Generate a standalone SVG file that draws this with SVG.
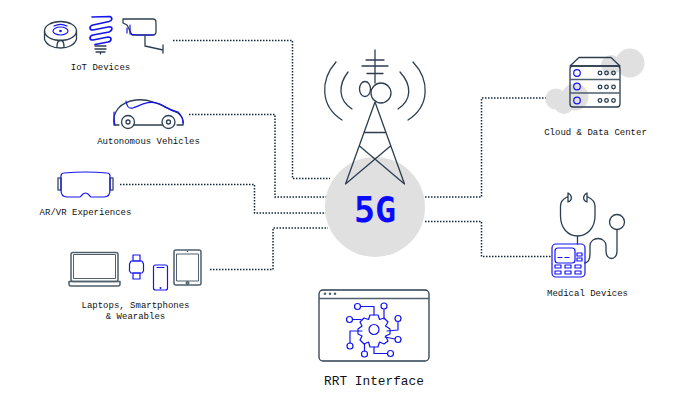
<svg xmlns="http://www.w3.org/2000/svg" width="690" height="400" viewBox="0 0 690 400">
<style>
text{font-family:"Liberation Mono","DejaVu Sans Mono",monospace;font-size:9px;fill:#111;text-anchor:middle}
.d{fill:none;stroke:#2c3e50;stroke-width:1.3;stroke-linecap:round;stroke-linejoin:round}
.g{fill:none;stroke:#4f5f6b;stroke-width:1.5;stroke-linejoin:round}
.b{fill:none;stroke:#1414f0;stroke-width:1.2;stroke-linecap:round;stroke-linejoin:round}
.c{fill:none;stroke:#14283c;stroke-width:1.5;stroke-dasharray:1.5 1.5}
.k{fill:#e0e0e0}
</style>
<rect width="690" height="400" fill="#fff"/>
<g id="connectors">
<path class="c" d="M173 40.500H292.500V178.500H330"/>
<path class="c" d="M189 114.500H275V197H328"/>
<path class="c" d="M120 184.500H254.500V213H328"/>
<path class="c" d="M210 269.500H273V228H328"/>
<path class="c" d="M425 197H481.500V98H565"/>
<path class="c" d="M425 221.500H481.500V256.500H552"/>
</g>
<g id="hub">
<circle class="k" cx="375" cy="207" r="50"/>
<path class="d" d="M375 50V83M366 60H384M362 66H388M367 73.500H383"/>
<ellipse class="d" cx="365" cy="89" rx="5.500" ry="7.500"/>
<circle class="d" cx="381" cy="93" r="10"/>
<path class="d" d="M375 102L345.500 184L390.500 146M375 102L404.500 184L359.500 146M364 132.500H386"/>
<path class="d" d="M336 62C320 80 320 106 342 120M348 72C338 85 338 100 352 109M413 62C430 80 430 106 408 120M400 72C412 85 412 100 398 109"/>
<text x="375" y="222" style="font-family:'DejaVu Sans Mono',monospace;font-size:35px;font-weight:700;fill:#0a0aff">5G</text>
</g>
<g id="iot">
<ellipse class="d" cx="60.500" cy="31" rx="16" ry="9.500"/>
<path class="d" d="M44.500 31V39C46 45 53 48 60.500 48S75 45 76.500 39V31M57 47C57 38 64 38 64 47"/>
<ellipse class="b" cx="60.500" cy="31" rx="7.500" ry="4"/>
<path class="b" d="M54 26C58 24 63 24 67 26"/>
<circle cx="60.500" cy="31" r="1.300" fill="#1414f0"/>
<path class="b" style="stroke-width:1.700" d="M92 17L110 16.500C113 18 112 21 109 21.500L93 25C89 26 89 30 93 30L108 27C113 26 113 30 109 32L93 35C89 36 89 40 93 40L108 37C112 37 112 41 108 42L95 44.500"/>
<path class="d" d="M95 46H106M95 49H106M96 52H105M100.500 52V54"/>
<path class="d" d="M123 19H153C156 19 156 21 156 24V32C156 34 154 35 152 35H132L127 25L123 23Z"/>
<path class="b" d="M127 28V33M130 25V34L137 35H154"/>
<path class="d" d="M145 36V46L163 50M163 45V53"/>
<text x="100.500" y="70">IoT Devices</text>
</g>
<g id="vehicles">
<path class="d" d="M114 125C112 112 120 102 136 100C152 98 166 108 178 113C182 116 184 120 183 125H177M119 125H114M134 125H162"/>
<path class="b" d="M126 101C127 106 128 109 133 108C143 104 150 100 160 104C166 107 168 110 178 112C181 115 183 119 183 123M114 112C114 118 114 122 115 125"/>
<circle class="d" cx="128" cy="122" r="6.500"/><circle class="d" cx="128" cy="122" r="2"/>
<circle class="d" cx="168.500" cy="122" r="6.500"/><circle class="d" cx="168.500" cy="122" r="2"/>
<text x="148.500" y="144">Autonomous Vehicles</text>
</g>
<g id="arvr">
<rect class="g" x="58" y="178" width="3" height="12"/><rect class="g" x="110" y="178" width="3" height="12"/>
<path class="b" d="M64 173C75 172 96 172 107 173C109 173 110 174 110 176V190C110 194 108 197 104 197H91C90 197 89 193 85.500 193S81 197 80 197H67C63 197 61 194 61 190V176C61 174 62 173 64 173Z"/>
<text x="85.500" y="215">AR/VR Experiences</text>
</g>
<g id="devices">
<rect class="g" x="71" y="252.500" width="47" height="29" rx="2"/>
<rect class="g" x="73.500" y="254.500" width="42" height="24" style="stroke-width:1"/>
<path class="g" d="M69 281.500H120V284C120 285 119 286 118 286H71C70 286 69 285 69 284Z"/>
<rect class="b" x="133" y="255" width="7" height="6"/><rect class="b" x="133" y="273" width="7" height="6"/>
<path class="b" d="M131 261H142L143.500 264V271L142 273H131L129.500 271V264Z"/>
<rect class="b" x="153.500" y="265" width="14" height="25" rx="2"/>
<path class="b" d="M157 267.500H164"/><circle cx="160.500" cy="288" r="1" fill="#1414f0"/>
<rect class="g" x="174" y="250" width="27" height="35" rx="2"/>
<rect class="g" x="176.500" y="254" width="22" height="27" style="stroke-width:1"/>
<circle cx="187.500" cy="251.500" r=".8" fill="#4f5f6b"/><circle class="g" cx="187.500" cy="283" r="1.200"/>
<text x="135.500" y="308">Laptops, Smartphones</text>
<text x="135.500" y="319">&amp; Wearables</text>
</g>
<g id="rrt">
<rect class="d" x="319" y="290" width="110" height="71" rx="4"/>
<path class="g" d="M319 298.500H429"/>
<circle cx="325" cy="293.700" r="1.300" fill="#4f5f6b"/><circle cx="330" cy="293.700" r="1.300" fill="#4f5f6b"/><circle cx="335" cy="293.700" r="1.300" fill="#4f5f6b"/>
<path class="b" d="M370 315H378L379.500 319.500L384 318L388 322L385.500 326L390 329V334L385.500 336L388 341L384 344L379.500 342L378 347H370L368.500 342L364 344L360 340L362 336L358 334V329L362 326L360 322L364 318L368.500 319.500Z"/>
<circle class="b" cx="374" cy="329.500" r="5"/>
<path class="b" d="M360.500 306.500H374V315M384 309.500V319M398 321.500V330L387 331M352.500 319.500H361M362 331H350V343M364.500 344V351M374 347V353.500H387M385 337L395 339"/>
<circle class="b" cx="357.500" cy="306.500" r="3"/><circle class="b" cx="384" cy="306" r="3"/><circle class="b" cx="398" cy="318.500" r="3"/><circle class="b" cx="349.500" cy="319.500" r="3"/><circle class="b" cx="350" cy="346" r="3"/><circle class="b" cx="364.500" cy="354" r="3"/><circle class="b" cx="390.500" cy="353.500" r="3"/><circle class="b" cx="398" cy="339.500" r="3"/>
<text x="374" y="385" style="font-size:12.800px">RRT Interface</text>
</g>
<g id="cloud">
<g class="k"><circle cx="556" cy="99" r="10.500"/><circle cx="564" cy="104" r="10"/><circle cx="575" cy="97" r="13.500"/><circle cx="611" cy="65" r="10"/><circle cx="630" cy="63" r="14.500"/></g>
<path class="d" d="M570 66L579 57.500H611L620 66Z"/>
<rect class="d" x="570" y="66" width="50" height="41" rx="3"/>
<path class="g" d="M570 79.500H620M570 93H620"/>
<circle class="b" cx="577" cy="73" r="3.300"/><circle class="b" cx="577" cy="86.500" r="3.300"/><circle class="b" cx="577" cy="100.500" r="3.300"/>
<g class="d"><circle cx="600" cy="73" r="1.800"/><circle cx="606.500" cy="73" r="1.800"/><circle cx="613.500" cy="73" r="1.800"/><circle cx="600" cy="87" r="1.800"/><circle cx="606.500" cy="87" r="1.800"/><circle cx="613.500" cy="87" r="1.800"/><circle cx="600" cy="100.500" r="1.800"/><circle cx="606.500" cy="100.500" r="1.800"/><circle cx="613.500" cy="100.500" r="1.800"/></g>
<text x="595.500" y="135">Cloud &amp; Data Center</text>
</g>
<g id="medical">
<path class="d" d="M568 197H567C563 199 560.500 202 560.500 206V216C560.500 228 568 236 577.500 236S595 228 595 216V206C595 202 592 199 588 197M577.500 236V244M568 193C572 195 573 200 568 202ZM587 193C583 195 582 200 587 202Z"/>
<path class="d" d="M585 263C589 262 590 259 590 254V246C590 236 606 236 606 246V251C606 261 617 261 617 251V230"/>
<circle class="d" cx="617" cy="222" r="7.500"/>
<rect class="b" x="552" y="244" width="33" height="33" rx="4"/>
<rect class="b" x="555" y="248" width="20" height="15" rx="3"/>
<path class="b" d="M558 257.500H562M565 257.500H569"/>
<g class="b"><rect x="577" y="253" width="5" height="3"/><rect x="577" y="258" width="5" height="3"/><rect x="555" y="265" width="6" height="3"/><rect x="565" y="265" width="6" height="3"/><rect x="575" y="265" width="6" height="3"/><rect x="555" y="271" width="6" height="3"/><rect x="565" y="271" width="6" height="3"/><rect x="575" y="271" width="6" height="3"/></g>
<text x="587.500" y="296">Medical Devices</text>
</g>
</svg>
